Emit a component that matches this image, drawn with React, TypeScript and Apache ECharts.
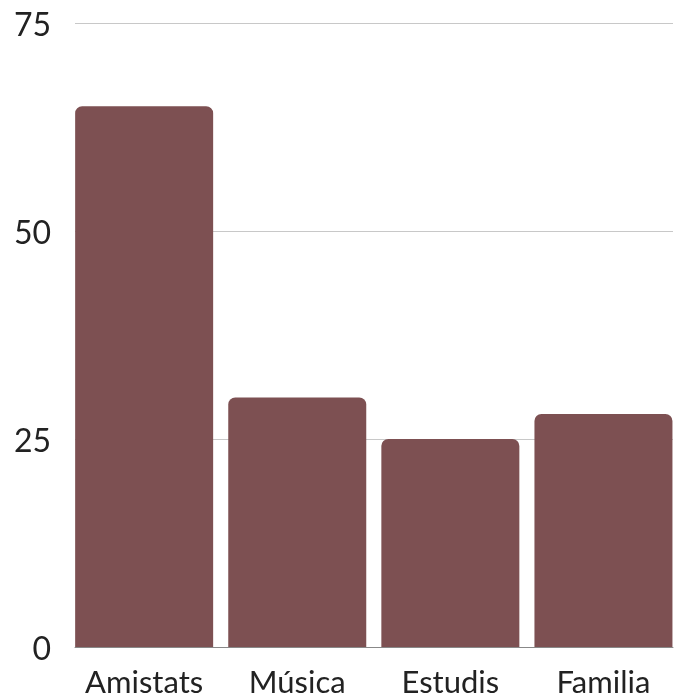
import React, { useEffect, useRef } from "react";
import * as echarts from "echarts";

const categories = ["Amistats", "Música", "Estudis", "Familia"];
const values = [65, 30, 25, 28];
const yTicks = [0, 25, 50, 75];

export default function App() {
  const ref = useRef<HTMLDivElement>(null);
  useEffect(() => {
    if (!ref.current) return;
    const chart = echarts.init(ref.current, null, { renderer: "svg" });
    const font = "Lato, 'Noto Sans', sans-serif";
    chart.setOption({
      animation: false,
      grid: [
        { left: 75, right: 7, top: 23, bottom: 51 },
        { left: 67.6, right: -0.6, top: 23, bottom: 51 },
      ],
      xAxis: [
        {
          type: "category",
          gridIndex: 0,
          data: categories,
          axisLine: { show: true, lineStyle: { color: "#888", width: 1 } },
          axisTick: { show: false },
          axisLabel: { show: false },
          z: 5,
        },
        {
          type: "category",
          gridIndex: 1,
          data: categories,
          axisLine: { show: false },
          axisTick: { show: false },
          axisLabel: {
            interval: 0,
            fontFamily: font,
            fontSize: 31,
            color: "#222",
            margin: 18,
          },
        },
      ],
      yAxis: [
        {
          type: "value",
          gridIndex: 0,
          min: yTicks[0],
          max: yTicks[yTicks.length - 1],
          interval: 25,
          axisLine: { show: false },
          axisTick: { show: false },
          axisLabel: {
            fontFamily: font,
            fontSize: 32,
            color: "#222",
            margin: 24,
          },
          splitLine: { show: true, lineStyle: { color: "#c8c8c8", width: 1 } },
        },
        {
          type: "value",
          gridIndex: 1,
          min: yTicks[0],
          max: yTicks[yTicks.length - 1],
          interval: 25,
          show: false,
          splitLine: { show: false },
        },
      ],
      series: [
        {
          type: "bar",
          xAxisIndex: 1,
          yAxisIndex: 1,
          data: values,
          barWidth: 138,
          itemStyle: { color: "#7d5052", borderRadius: [7, 7, 0, 0] },
        },
      ],
    });
    return () => chart.dispose();
  }, []);
  return (
    <div
      ref={ref}
      style={{ position: "fixed", left: 0, top: 0, width: 680, height: 698 }}
    />
  );
}
